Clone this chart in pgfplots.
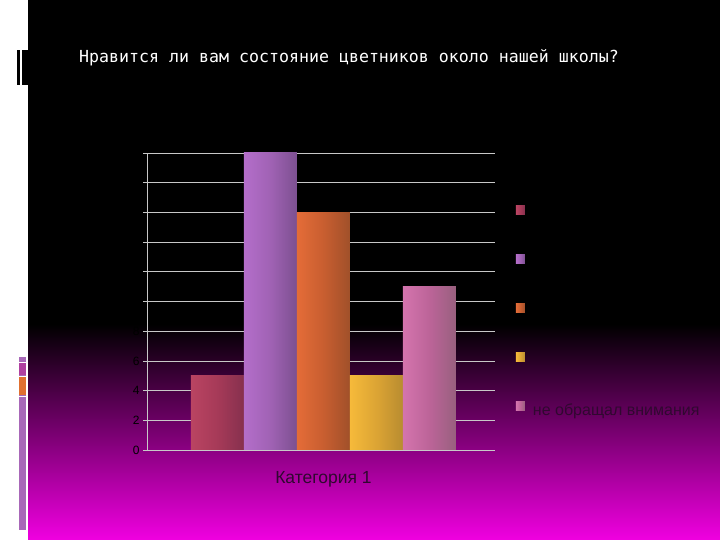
\documentclass[border=0pt]{standalone}
\usepackage{pgfplots}
\pgfplotsset{compat=1.18}
\usepackage{fontspec}
\setmainfont{Liberation Sans}
\newfontfamily\titlefont{DejaVu Sans Mono}
\definecolor{bgmag}{HTML}{F000E0}
\definecolor{dimtxt}{HTML}{000000}
\definecolor{legtxt}{HTML}{300830}
\definecolor{gridc}{HTML}{C8C8C8}
\definecolor{stripP}{HTML}{A868B8}
\definecolor{stripO}{HTML}{E07030}
\definecolor{stripM}{HTML}{B040A0}
\definecolor{aL}{HTML}{BA4462}\definecolor{aM}{HTML}{A63A58}\definecolor{aR}{HTML}{86304E}
\definecolor{bL}{HTML}{B46ECA}\definecolor{bM}{HTML}{A062B4}\definecolor{bR}{HTML}{7C5090}
\definecolor{cL}{HTML}{E46C38}\definecolor{cM}{HTML}{C85E30}\definecolor{cR}{HTML}{A0502A}
\definecolor{dL}{HTML}{F6BA3A}\definecolor{dM}{HTML}{DCA434}\definecolor{dR}{HTML}{B88C30}
\definecolor{eL}{HTML}{D474AE}\definecolor{eM}{HTML}{BC6498}\definecolor{eR}{HTML}{98607E}
\begin{document}
\begin{tikzpicture}[x=1pt,y=1pt]
\useasboundingbox (0,0) rectangle (720,540);
\fill[black] (0,215) rectangle (720,540);
\shade[top color=black, bottom color=bgmag] (0,0) rectangle (720,216);
\fill[white] (0,0) rectangle (28,540);
\fill[black] (17,455) rectangle (29,490);
\fill[white] (20,455) rectangle (21.5,490);
\fill[stripP] (19,10) rectangle (26,183);
\fill[stripO] (19,145) rectangle (26,163);
\fill[stripM] (19,165) rectangle (26,177);
\draw[white,line width=0.8pt] (19,164) -- (26,164) (19,144) -- (26,144) (19,178) -- (26,178);
\node[anchor=west, text=white, font=\titlefont\fontsize{16.6}{19}\selectfont, inner sep=0pt] at (79,482) {Нравится ли вам состояние цветников около нашей школы?};
\begin{axis}[
  at={(147pt,90pt)}, anchor=south west, scale only axis,
  width=348pt, height=297pt,
  ymin=0, ymax=20, ytick={0,2,...,20},
  xmin=-1, xmax=0.972,
  xtick={0}, xticklabels={Категория 1},
  major x tick style={draw=none},
  extra x ticks={-1,0.972}, extra x tick labels={},
  extra x tick style={tick style={draw=gridc}, major tick length=4pt, tick align=outside, grid=none},
  axis lines=left, axis line style={-, draw=gridc, line width=0.6pt},
  tick style={draw=gridc, line width=0.6pt}, major tick length=4pt, tick align=outside,
  ymajorgrids, grid style={draw=gridc, line width=0.7pt},
  yticklabel style={text=dimtxt, font=\fontsize{12}{12}\selectfont},
  xticklabel style={text=legtxt, font=\fontsize{17.5}{17.5}\selectfont, yshift=-14pt},
  /pgf/number format/assume math mode=true,
  ybar=0pt, bar width=53pt,
  legend style={at={(1.0603,0.8232)}, anchor=north west, draw=none, fill=none,
    inner sep=0pt, outer sep=0pt, row sep=35.5pt, text=legtxt,
    font=\fontsize{16}{16}\selectfont,
    nodes={inner sep=0pt, text height=9pt, text depth=0pt, anchor=west},
    /tikz/every odd column/.append style={column sep=8pt}},
  legend image code/.code={\fill[#1] (0pt,0pt) rectangle (9pt,9pt);},
]
\addplot[draw=none, left color=aL, right color=aR, middle color=aM] coordinates {(0,5)};
\addplot[draw=none, left color=bL, right color=bR, middle color=bM] coordinates {(0,20)};
\addplot[draw=none, left color=cL, right color=cR, middle color=cM] coordinates {(0,16)};
\addplot[draw=none, left color=dL, right color=dR, middle color=dM] coordinates {(0,5)};
\addplot[draw=none, left color=eL, right color=eR, middle color=eM] coordinates {(0,11)};
\legend{\phantom{a},\phantom{a},\phantom{a},\phantom{a},не обращал внимания}
\end{axis}
\end{tikzpicture}
\end{document}
